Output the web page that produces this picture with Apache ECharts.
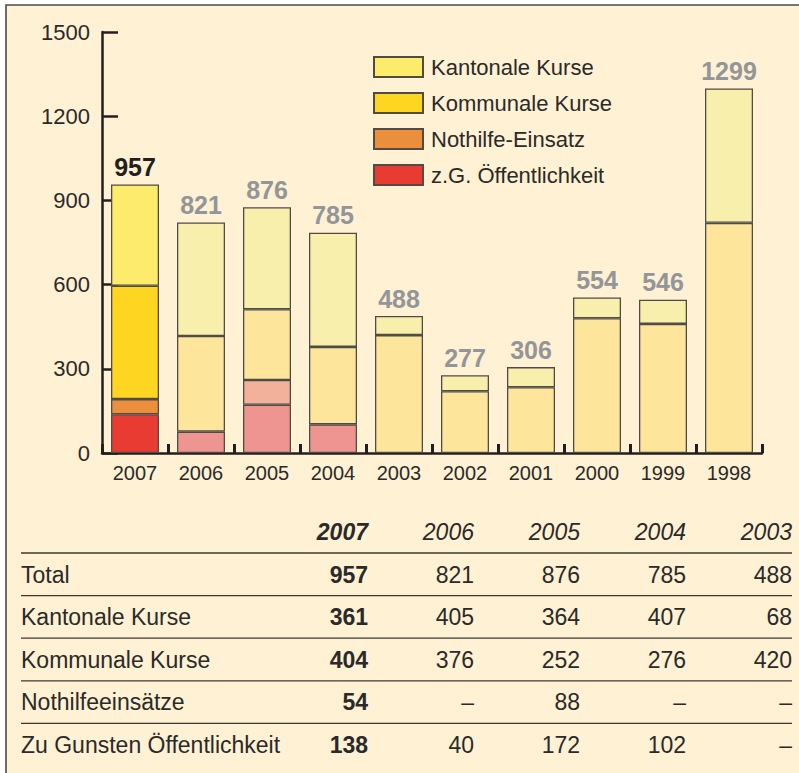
<!DOCTYPE html>
<html>
<head>
<meta charset="utf-8">
<script src="https://cdn.jsdelivr.net/npm/echarts@6/dist/echarts.min.js"></script>
<style>
  html, body { margin: 0; padding: 0; background: #fff; }
  #chart { width: 799px; height: 773px; }
</style>
</head>
<body>
<div id="chart"></div>
<script>
// Kurse pro Jahr (Balkenhöhen wie im Diagramm gezeichnet)
var years = ['2007', '2006', '2005', '2004', '2003', '2002', '2001', '2000', '1999', '1998'];
var totals = [957, 821, 876, 785, 488, 277, 306, 554, 546, 1299];
var kantonale = [361, 404, 364, 407, 68, 57, 72, 74, 86, 479];
var kommunale = [404, 341, 252, 276, 420, 220, 234, 480, 460, 820];
var nothilfe = [54, null, 88, null, null, null, null, null, null, null];
var oeffentlich = [138, 76, 172, 102, null, null, null, null, null, null];
var yTicks = [0, 300, 600, 900, 1200, 1500];

// Tabelle
var tableYears = ['2007', '2006', '2005', '2004', '2003'];
var tableLabels = ['Total', 'Kantonale Kurse', 'Kommunale Kurse', 'Nothilfeeinsätze', 'Zu Gunsten Öffentlichkeit'];
var tblTotal = [957, 821, 876, 785, 488];
var tblKantonal = [361, 405, 364, 407, 68];
var tblKommunal = [404, 376, 252, 276, 420];
var tblNothilfe = [54, null, 88, null, null];
var tblOeffentlich = [138, 40, 172, 102, null];
var tableValues = [tblTotal, tblKantonal, tblKommunal, tblNothilfe, tblOeffentlich];

var names = ['z.G. Öffentlichkeit', 'Nothilfe-Einsatz', 'Kommunale Kurse', 'Kantonale Kurse'];
var brightCol = ['#e83b32', '#ec8f3c', '#fed520', '#fdeb6b'];
var fadedCol = ['#ef9591', '#f1b19b', '#fde69c', '#f7efab'];
var seriesData = [oeffentlich, nothilfe, kommunale, kantonale];

var FONT = "'Liberation Sans', Arial, sans-serif";
var TXT = '#2b2a29';

var chart = echarts.init(document.getElementById('chart'), null, { renderer: 'svg' });

var series = [];
for (var s = 0; s < 4; s++) {
  var d = [];
  for (var i = 0; i < years.length; i++) {
    var item = {
      value: seriesData[s][i],
      itemStyle: { color: i == 0 ? brightCol[s] : fadedCol[s] }
    };
    if (s == 3) {
      item.label = { color: i == 0 ? '#231f20' : '#939598' };
    }
    d.push(item);
  }
  var ser = {
    name: names[s],
    type: 'bar',
    stack: 'kurse',
    barWidth: 48,
    itemStyle: { color: brightCol[s], borderColor: '#4f4c46', borderWidth: 1.3 },
    emphasis: { disabled: true },
    data: d
  };
  if (s == 3) {
    ser.label = {
      show: true,
      position: 'top',
      distance: 5,
      fontFamily: FONT,
      fontWeight: 'bold',
      fontSize: 25,
      formatter: function(p) { return totals[p.dataIndex]; }
    };
  }
  series.push(ser);
}

// Rahmen + Tabelle unter dem Diagramm
var graphics = [{
  type: 'rect',
  silent: true,
  z: -10,
  shape: { x: 6, y: 5, width: 800, height: 780 },
  style: { fill: '#fef1d4', stroke: '#4a4a4a', lineWidth: 1.6 }
}];
var tblLeft = 21, tblRight = 792, colStep = 106, headY = 532, rowStep = 42.6;
for (var c = 0; c < tableYears.length; c++) {
  graphics.push({
    type: 'text',
    style: {
      text: tableYears[c],
      x: tblRight - (tableYears.length - 1 - c) * colStep,
      y: headY,
      textAlign: 'right',
      textVerticalAlign: 'middle',
      fill: TXT,
      font: (c == 0 ? 'italic bold ' : 'italic ') + '23px ' + FONT
    }
  });
}
for (var r = 0; r < tableLabels.length; r++) {
  var ly = headY + 21 + r * rowStep;
  graphics.push({
    type: 'line',
    shape: { x1: tblLeft, y1: ly, x2: tblRight, y2: ly },
    style: { stroke: '#3a3835', lineWidth: 1.3 }
  });
  var ry = headY + (r + 1) * rowStep;
  graphics.push({
    type: 'text',
    style: {
      text: tableLabels[r],
      x: tblLeft,
      y: ry,
      textAlign: 'left',
      textVerticalAlign: 'middle',
      fill: TXT,
      font: '23px ' + FONT
    }
  });
  for (var c = 0; c < tableYears.length; c++) {
    var v = tableValues[r][c];
    graphics.push({
      type: 'text',
      style: {
        text: v == null ? '–' : String(v),
        x: tblRight - (tableYears.length - 1 - c) * colStep,
        y: ry,
        textAlign: 'right',
        textVerticalAlign: 'middle',
        fill: TXT,
        font: (c == 0 ? 'bold 23px ' : '23px ') + FONT
      }
    });
  }
}

var option = {
  backgroundColor: '#ffffff',
  animation: false,
  grid: { left: 102, right: 37, top: 32, bottom: 320 },
  legend: {
    data: ['Kantonale Kurse', 'Kommunale Kurse', 'Nothilfe-Einsatz', 'z.G. Öffentlichkeit'],
    orient: 'vertical',
    left: 373,
    top: 56,
    padding: 0,
    itemWidth: 49,
    itemHeight: 20,
    itemGap: 14,
    icon: 'rect',
    selectedMode: false,
    textStyle: { fontFamily: FONT, fontSize: 22, color: TXT, padding: [0, 0, 0, 3] }
  },
  xAxis: {
    type: 'category',
    data: years,
    axisLine: { lineStyle: { color: '#231f20', width: 2.5 } },
    axisTick: { show: true, inside: true, length: 9, lineStyle: { color: '#231f20', width: 3 } },
    axisLabel: {
      margin: 10,
      fontFamily: "'Liberation Sans Narrow', 'Arial Narrow', " + FONT,
      fontSize: 20,
      color: TXT
    }
  },
  yAxis: {
    type: 'value',
    min: yTicks[0],
    max: yTicks[yTicks.length - 1],
    interval: yTicks[1] - yTicks[0],
    axisLine: { show: true, lineStyle: { color: '#231f20', width: 2.5 } },
    axisTick: { show: true, inside: true, length: 16, lineStyle: { color: '#231f20', width: 2.5 } },
    splitLine: { show: false },
    axisLabel: {
      margin: 12,
      fontFamily: FONT,
      fontSize: 22,
      color: TXT,
      formatter: function(v) { return String(v); }
    }
  },
  graphic: graphics,
  series: series
};

chart.setOption(option);
</script>
</body>
</html>
